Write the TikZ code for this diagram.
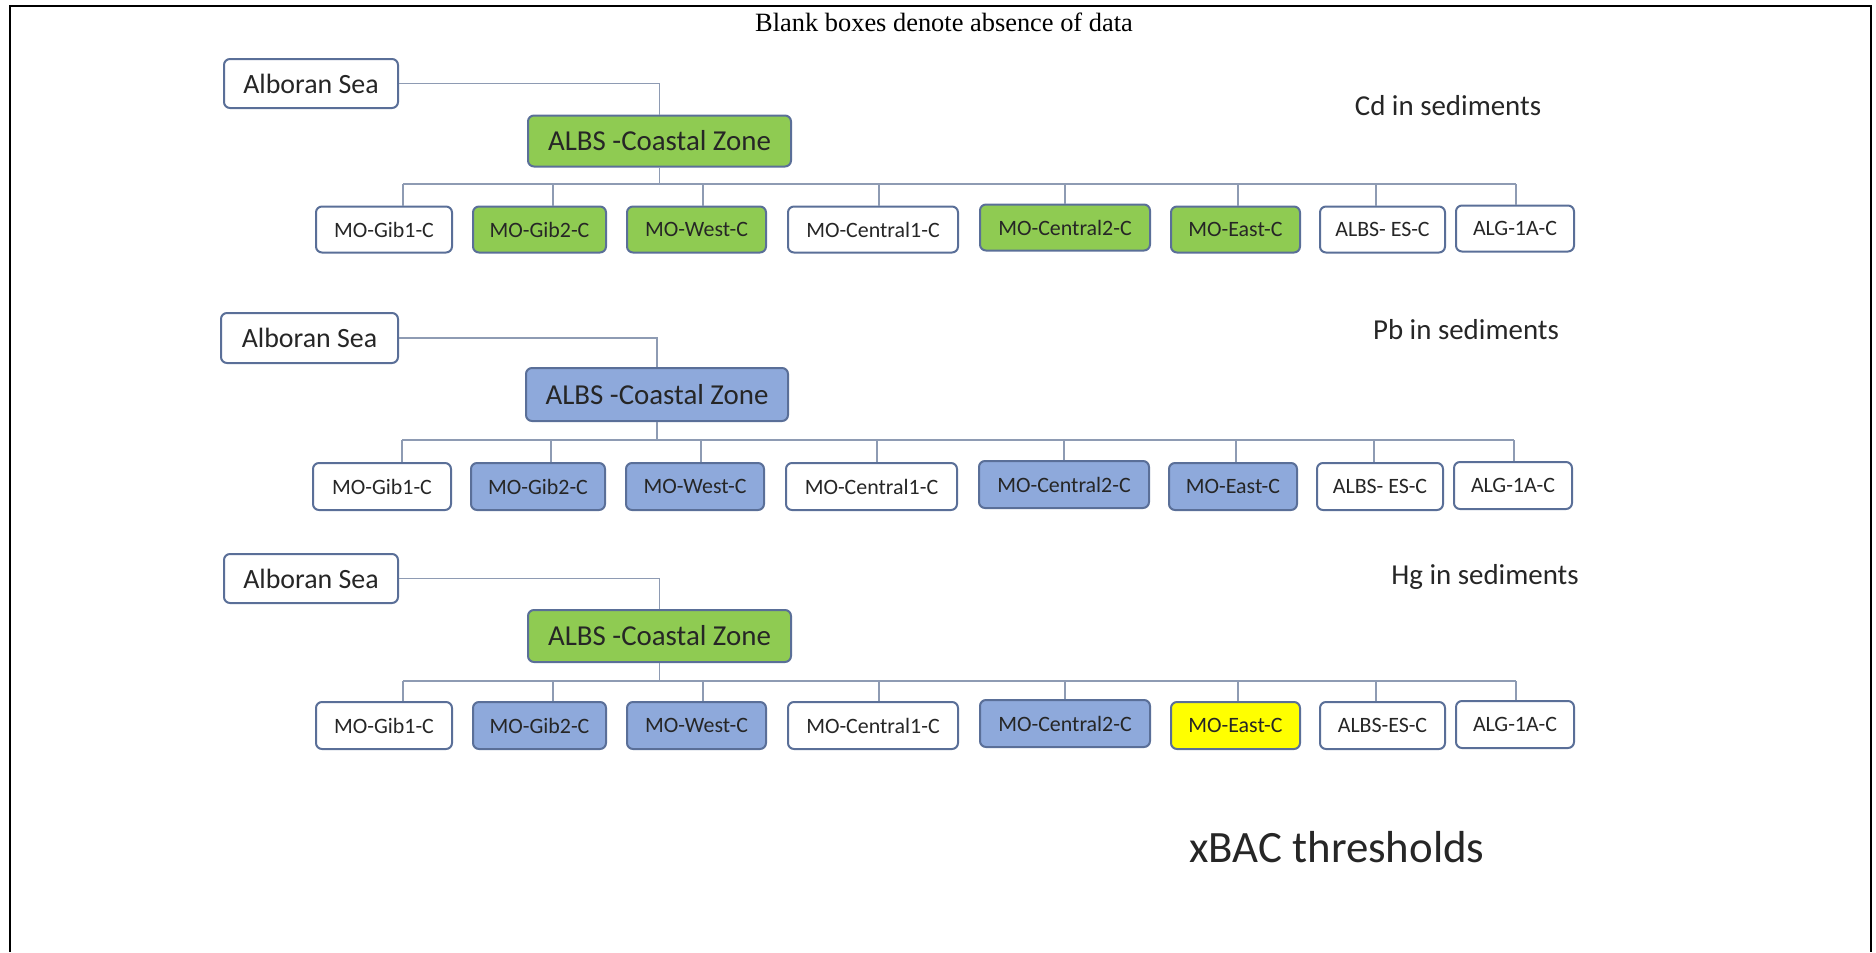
\documentclass[tikz,border=0pt]{standalone}
\usepackage{fontspec}
\newfontfamily\boxfont{Carlito}
\newfontfamily\notefont{Liberation Serif}
\definecolor{boxline}{HTML}{5A6F98}
\definecolor{wireline}{HTML}{8E9BB3}
\definecolor{fillgreen}{HTML}{8FCB52}
\definecolor{fillblue}{HTML}{8EA9DB}
\definecolor{fillyellow}{HTML}{FFFF00}
\definecolor{inktext}{HTML}{262626}
\tikzset{
  basebox/.style={draw=boxline, line width=2bp, rounded corners=6bp, inner sep=0pt,
    text=inktext, fill=white},
  seabox/.style={basebox, minimum width=174bp, minimum height=49bp,
    font=\boxfont\fontsize{28}{30}\selectfont},
  zonebox/.style={basebox, minimum width=263bp, minimum height=51bp,
    font=\boxfont\fontsize{29}{31}\selectfont},
  leafbox/.style={basebox, minimum height=46bp,
    font=\boxfont\fontsize{22}{24}\selectfont},
  wire/.style={draw=wireline, line width=1.8bp},
  heading/.style={text=inktext, font=\boxfont\fontsize{29}{31}\selectfont, inner sep=0pt},
  gfill/.style={fill=fillgreen},
  bfill/.style={fill=fillblue},
  yfill/.style={fill=fillyellow}
}
\begin{document}
\begin{tikzpicture}[x=1bp, y=-1bp]
\useasboundingbox (0,0) rectangle (1876,952);
% open frame (no bottom rule)
\draw[line width=2.2bp] (9.8,952) -- (9.8,5.8) -- (1871,5.8) -- (1871,952);

\node[font=\notefont\fontsize{26.5}{28}\selectfont, inner sep=0pt] (note) at (944,22) {Blank boxes denote absence of data};

% ---------------- Cd in sediments ----------------
\node[heading] (hcd) at (1448,106) {Cd in sediments};
\node[seabox] (sea1) at (311,83.5) {Alboran Sea};
\node[zonebox, gfill] (zone1) at (659.5,141) {ALBS -Coastal Zone};
\node[leafbox, minimum width=136bp] (a1) at (384,229.5) {MO-Gib1-C};
\node[leafbox, minimum width=133bp, gfill] (a2) at (539.5,229.5) {MO-Gib2-C};
\node[leafbox, minimum width=139bp, gfill] (a3) at (696.5,229.5) {MO-West-C};
\node[leafbox, minimum width=170bp] (a4) at (873,229.5) {MO-Central1-C};
\node[leafbox, minimum width=170bp, gfill] (a5) at (1065,227.5) {MO-Central2-C};
\node[leafbox, minimum width=129bp, gfill] (a6) at (1235.5,229.5) {MO-East-C};
\node[leafbox, minimum width=125bp] (a7) at (1382.5,229.5) {ALBS- ES-C};
\node[leafbox, minimum width=118bp] (a8) at (1515,228.5) {ALG-1A-C};
\coordinate (bus1) at (0,184);
\draw[wire] (sea1.east) -| (zone1.north);
\draw[wire] (zone1.south) -- (zone1.south |- bus1);
\draw[wire] ([xshift=19bp]a1.north |- bus1) -- ([xshift=1bp]a8.north |- bus1);
\foreach \n/\d in {a1/19, a2/13.5, a3/6.5, a4/6, a5/0, a6/2.5, a7/-6.5, a8/1}
  \draw[wire] ([xshift=\d bp]\n.north |- bus1) -- ([xshift=\d bp]\n.north);

% ---------------- Pb in sediments ----------------
\node[heading] (hpb) at (1466,330) {Pb in sediments};
\node[seabox, minimum width=177bp, minimum height=50bp] (sea2) at (309.5,338) {Alboran Sea};
\node[zonebox, bfill, minimum width=262bp, minimum height=53bp] (zone2) at (657,394.5) {ALBS -Coastal Zone};
\node[leafbox, minimum width=138bp, minimum height=47bp] (b1) at (382,486.5) {MO-Gib1-C};
\node[leafbox, minimum width=134bp, minimum height=47bp, bfill] (b2) at (538,486.5) {MO-Gib2-C};
\node[leafbox, minimum width=138bp, minimum height=47bp, bfill] (b3) at (695,486.5) {MO-West-C};
\node[leafbox, minimum width=171bp, minimum height=47bp] (b4) at (871.5,486.5) {MO-Central1-C};
\node[leafbox, minimum width=170bp, minimum height=47bp, bfill] (b5) at (1064,484.5) {MO-Central2-C};
\node[leafbox, minimum width=128bp, minimum height=47bp, bfill] (b6) at (1233,486.5) {MO-East-C};
\node[leafbox, minimum width=126bp, minimum height=47bp] (b7) at (1380,486.5) {ALBS- ES-C};
\node[leafbox, minimum width=118bp, minimum height=47bp] (b8) at (1513,485.5) {ALG-1A-C};
\coordinate (bus2) at (0,440);
\draw[wire] (sea2.east) -| (zone2.north);
\draw[wire] (zone2.south) -- (zone2.south |- bus2);
\draw[wire] ([xshift=20bp]b1.north |- bus2) -- ([xshift=1bp]b8.north |- bus2);
\foreach \n/\d in {b1/20, b2/13, b3/6, b4/5.5, b5/0, b6/3, b7/-6, b8/1}
  \draw[wire] ([xshift=\d bp]\n.north |- bus2) -- ([xshift=\d bp]\n.north);

% ---------------- Hg in sediments ----------------
\node[heading] (hhg) at (1485,577) {Hg in sediments};
\node[seabox] (sea3) at (311,578.5) {Alboran Sea};
\node[zonebox, gfill, minimum height=52bp] (zone3) at (659.5,636) {ALBS -Coastal Zone};
\node[leafbox, minimum width=136bp, minimum height=47bp] (c1) at (384,725.5) {MO-Gib1-C};
\node[leafbox, minimum width=133bp, minimum height=47bp, bfill] (c2) at (539.5,725.5) {MO-Gib2-C};
\node[leafbox, minimum width=139bp, minimum height=47bp, bfill] (c3) at (696.5,725.5) {MO-West-C};
\node[leafbox, minimum width=170bp, minimum height=47bp] (c4) at (873,725.5) {MO-Central1-C};
\node[leafbox, minimum width=170bp, minimum height=47bp, bfill] (c5) at (1065,723.5) {MO-Central2-C};
\node[leafbox, minimum width=129bp, minimum height=47bp, yfill] (c6) at (1235.5,725.5) {MO-East-C};
\node[leafbox, minimum width=125bp, minimum height=47bp] (c7) at (1382.5,725.5) {ALBS-ES-C};
\node[leafbox, minimum width=118bp, minimum height=47bp] (c8) at (1515,724.5) {ALG-1A-C};
\coordinate (bus3) at (0,681);
\draw[wire] (sea3.east) -| (zone3.north);
\draw[wire] (zone3.south) -- (zone3.south |- bus3);
\draw[wire] ([xshift=19bp]c1.north |- bus3) -- ([xshift=1bp]c8.north |- bus3);
\foreach \n/\d in {c1/19, c2/13.5, c3/6.5, c4/6, c5/0, c6/2.5, c7/-6.5, c8/1}
  \draw[wire] ([xshift=\d bp]\n.north |- bus3) -- ([xshift=\d bp]\n.north);

\node[text=inktext, font=\boxfont\fontsize{45}{47}\selectfont, inner sep=0pt] (xbac) at (1337,847) {xBAC thresholds};
\end{tikzpicture}
\end{document}
